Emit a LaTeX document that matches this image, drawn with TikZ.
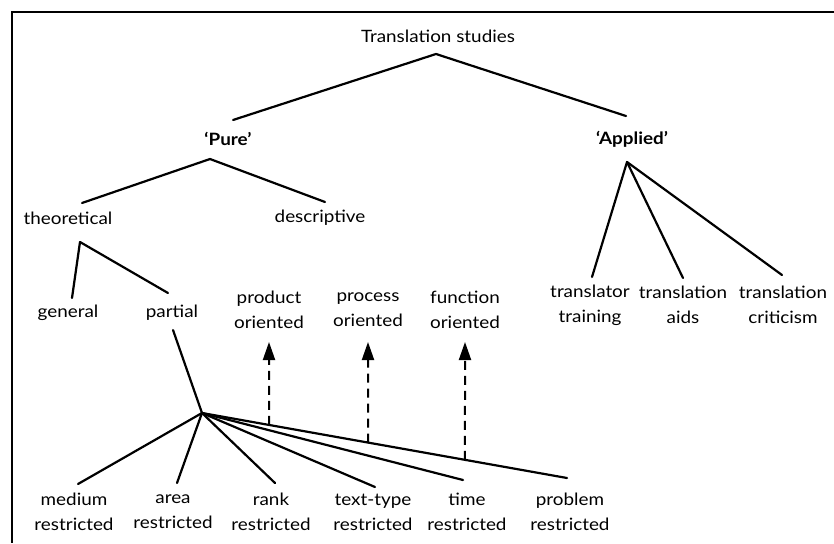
\documentclass[tikz,border=0pt]{standalone}
\usepackage{fontspec}
\setmainfont{Lato}[FakeStretch=1.11]
\usetikzlibrary{arrows.meta,calc}
\begin{document}
\begin{tikzpicture}[x=1pt,y=-1pt,
  lbl/.style={font=\fontsize{17}{25}\selectfont, align=center, inner sep=0pt},
  blbl/.style={lbl, font=\fontsize{17}{25}\selectfont\bfseries},
  ln/.style={line width=2.2pt, line cap=round, line join=round},
  dsh/.style={line width=2pt, dash pattern=on 9pt off 6pt, -{Triangle[width=12pt,length=18pt]}}]
\useasboundingbox (0,0) rectangle (834,543);
\draw[line width=2pt] (834,12) -- (12,12) -- (12,543);

% labels
\node[lbl] (ts) at (438,36) {Translation studies};
\node[blbl] (pure) at (228,139) {‘Pure’};
\node[blbl] (appl) at (632,139) {‘Applied’};
\node[lbl] (theo) at (68,218) {theoretical};
\node[lbl] (desc) at (320,218) {descriptive};
\node[lbl] (gen) at (68,313) {general};
\node[lbl] (part) at (172,313) {partial};
\node[lbl] (prod) at (269,310) {product\\oriented};
\node[lbl] (proc) at (368,310) {process\\oriented};
\node[lbl] (func) at (465,310) {function\\oriented};
\node[lbl] (trt) at (590,305) {translator\\training};
\node[lbl] (tra) at (683,305) {translation\\aids};
\node[lbl] (trc) at (783,305) {translation\\criticism};
\node[lbl] (med) at (74,512) {medium\\restricted};
\node[lbl] (area) at (173,512) {area\\restricted};
\node[lbl] (rank) at (271,512) {rank\\restricted};
\node[lbl] (ttype) at (373,512) {text-type\\restricted};
\node[lbl] (time) at (467,512) {time\\restricted};
\node[lbl] (prob) at (570,512) {problem\\restricted};

% junction points
\coordinate (tsJ) at (436,54);
\coordinate (pureT) at (233,120);
\coordinate (applT) at (626,116);
\coordinate (pureJ) at (210,159);
\coordinate (theoT) at (82,203);
\coordinate (descT) at (325,202);
\coordinate (theoJ) at (80,242);
\coordinate (genT) at (72,298);
\coordinate (partT) at (168,293);
\coordinate (partB) at (173,330);
\coordinate (hub) at (202,413);
\coordinate (medT) at (78,484);
\coordinate (areaT) at (177,483);
\coordinate (rankT) at (275,483);
\coordinate (ttypeT) at (375,487);
\coordinate (timeT) at (463,480);
\coordinate (probT) at (567,478);
\coordinate (applJ) at (627,162);
\coordinate (trtT) at (592,277);
\coordinate (traT) at (683,278);
\coordinate (trcT) at (782,275);
\coordinate (prodA) at (269,342);
\coordinate (procA) at (368,342);
\coordinate (funcA) at (465,342);

% tree lines
\draw[ln] (pureT) -- (tsJ) -- (applT);
\draw[ln] (theoT) -- (pureJ) -- (descT);
\draw[ln] (genT) -- (theoJ) -- (partT);
\draw[ln] (partB) -- (hub);
\foreach \e in {medT,areaT,rankT,ttypeT,timeT,probT} \draw[ln] (hub) -- (\e);
\draw[ln] (trtT) -- (applJ) -- (trcT);
\draw[ln] (applJ) -- (traT);

% dashed arrows rising from the problem line
\coordinate (prodB) at ($(hub)!0.1836!(probT)$);
\coordinate (procB) at ($(hub)!0.4548!(probT)$);
\coordinate (funcB) at ($(hub)!0.7205!(probT)$);
\draw[dsh] (prodB) -- (prodA);
\draw[dsh] (procB) -- (procA);
\draw[dsh] (funcB) -- (funcA);
\end{tikzpicture}
\end{document}
